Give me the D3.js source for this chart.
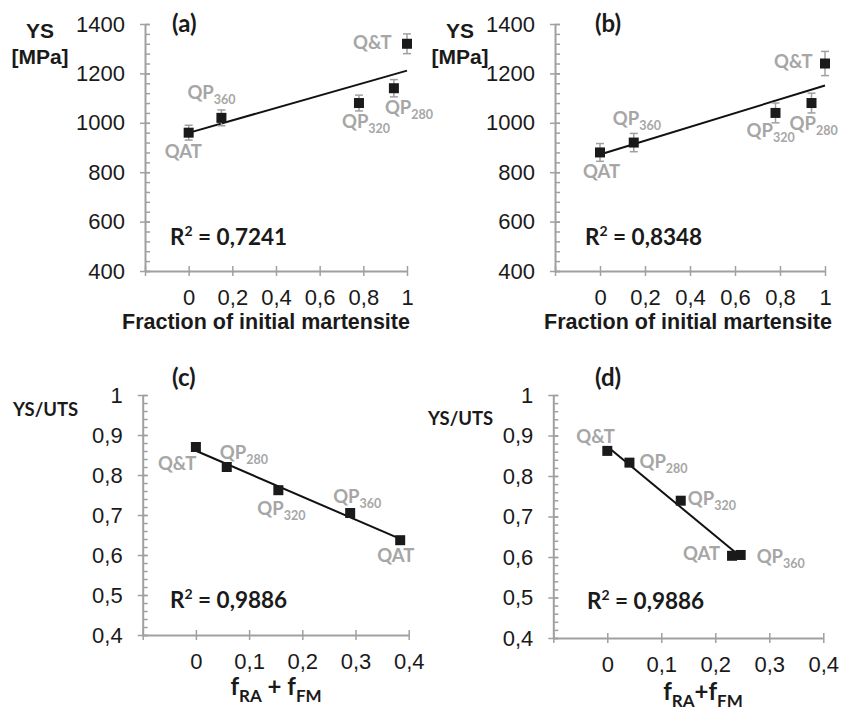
<!DOCTYPE html>
<html>
<head>
<meta charset="utf-8">
<script src="https://cdn.jsdelivr.net/npm/d3@7"></script>
<style>
  body { margin: 0; background: #fff; }
  svg { display: block; }
</style>
</head>
<body>
<div id="chart"></div>
<script>
// ---- datos ----
const labelsAB = ["QAT", "QP360", "QP320", "QP280", "Q&T"];
const fracA = [0, 0.15, 0.78, 0.94, 1];
const ysA = [960, 1020, 1080, 1140, 1320];
const errA = [30, 32, 32, 35, 40];

const fracB = [0, 0.15, 0.78, 0.94, 1];
const ysB = [880, 920, 1040, 1080, 1240];
const errB = [36, 37, 40, 40, 49];

const labelsC = ["Q&T", "QP280", "QP320", "QP360", "QAT"];
const fC = [0, 0.058, 0.155, 0.29, 0.384];
const ratioC = [0.87, 0.82, 0.762, 0.705, 0.637];

const labelsD = ["Q&T", "QP280", "QP320", "QAT", "QP360"];
const fD = [0, 0.041, 0.136, 0.231, 0.247];
const ratioD = [0.862, 0.833, 0.739, 0.603, 0.605];

const r2Texts = ["0,7241", "0,8348", "0,9886", "0,9886"];

const ysTicks = [400, 600, 800, 1000, 1200, 1400];
const fracTicks = [-0.2, 0, 0.2, 0.4, 0.6, 0.8, 1];
const ratioTicks = [0.4, 0.5, 0.6, 0.7, 0.8, 0.9, 1];
const fTicks = [-0.1, 0, 0.1, 0.2, 0.3, 0.4];

// desplazamiento de las etiquetas (px) respecto al punto
const offA = [[-24, 25], [-34, -19], [-17, 25], [-9, 26], [-54, 5]];
const offB = [[-17, 26], [-21, -18], [-29, 24], [-22, 27], [-51, 4]];
const offC = [[-38, 23], [-7, -8], [-21, 25], [-17, -10], [-23, 22]];
const offD = [[-31, -8], [10, 5], [7, 4], [-49, 4], [16, 8]];

const W = 841, H = 712;
const axisColor = "#a0a0a0", labelGray = "#a6a6a6", ink = "#1a1a1a";
const calibri = "Lato, 'Open Sans', sans-serif";
const arial = "'Liberation Sans', Arial, sans-serif";

const loc = d3.formatLocale({ decimal: ",", thousands: "", grouping: [3], currency: ["", ""] });
const fmt = loc.format("~g");

const svg = d3.select("#chart").append("svg")
  .attr("width", W).attr("height", H)
  .attr("viewBox", `0 0 ${W} ${H}`);

const panels = [
  { tag: "(a)", x: fracA, y: ysA, err: errA, names: labelsAB, off: offA, r2: r2Texts[0],
    xDom: [-0.2, 1], xR: [145, 407], yDom: [400, 1400], yR: [271, 24],
    xTicks: fracTicks, yTicks: ysTicks, minor: 40, top: "ys",
    ylab: [40, 38], tagPos: [172, 32], r2Pos: [170, 245], xlabPos: [266, 329], xlab: "frac" },
  { tag: "(b)", x: fracB, y: ysB, err: errB, names: labelsAB, off: offB, r2: r2Texts[1],
    xDom: [-0.2, 1], xR: [555, 825], yDom: [400, 1400], yR: [271, 24],
    xTicks: fracTicks, yTicks: ysTicks, minor: 40, top: "ys",
    ylab: [460, 38], tagPos: [595, 32], r2Pos: [585, 245], xlabPos: [688, 329], xlab: "frac" },
  { tag: "(c)", x: fC, y: ratioC, err: null, names: labelsC, off: offC, r2: r2Texts[2],
    xDom: [-0.1, 0.4], xR: [142.7, 408.7], yDom: [0.4, 1], yR: [635, 395],
    xTicks: fTicks, yTicks: ratioTicks, minor: 0.02, top: "ratio",
    ylab: [13, 416], tagPos: [172, 386], r2Pos: [170, 608], xlabPos: [276, 695], xlab: "f" },
  { tag: "(d)", x: fD, y: ratioD, err: null, names: labelsD, off: offD, r2: r2Texts[3],
    xDom: [-0.1, 0.4], xR: [553.3, 823.3], yDom: [0.4, 1], yR: [638, 395],
    xTicks: fTicks, yTicks: ratioTicks, minor: 0.02, top: "ratio",
    ylab: [428, 425], tagPos: [595, 386], r2Pos: [587, 609], xlabPos: [703, 700], xlab: "f2" }
];

panels.forEach(p => {
  const x = d3.scaleLinear().domain(p.xDom).range(p.xR);
  const y = d3.scaleLinear().domain(p.yDom).range(p.yR);
  const g = svg.append("g");
  const x0 = p.xR[0], y0 = p.yR[0];

  // eje Y: menores
  const minors = d3.range(p.yDom[0], p.yDom[1] + p.minor / 2, p.minor);
  g.append("g")
    .attr("transform", `translate(${x0},0)`)
    .call(d3.axisRight(y).tickValues(minors).tickSize(5).tickFormat(""))
    .call(a => a.select(".domain").remove())
    .call(a => a.selectAll("line").attr("stroke", axisColor).attr("stroke-width", 1.5));

  // eje Y: mayores
  g.append("g")
    .attr("transform", `translate(${x0},0)`)
    .call(d3.axisLeft(y).tickValues(p.yTicks).tickSize(5).tickSizeOuter(0).tickPadding(15).tickFormat(fmt))
    .call(a => a.select(".domain").attr("stroke", axisColor).attr("stroke-width", 2))
    .call(a => a.selectAll("line").attr("x1", 5).attr("stroke", axisColor).attr("stroke-width", 1.5))
    .call(a => a.selectAll("text").attr("fill", ink).style("font-family", arial).style("font-size", "22px"));

  // eje X
  g.append("g")
    .attr("transform", `translate(0,${y0})`)
    .call(d3.axisBottom(x).tickValues(p.xTicks).tickSize(5).tickSizeOuter(0).tickPadding(13)
      .tickFormat(d => d < 0 ? "" : fmt(d)))
    .call(a => a.select(".domain").attr("stroke", axisColor).attr("stroke-width", 2))
    .call(a => a.selectAll("line").attr("y1", -5).attr("stroke", axisColor).attr("stroke-width", 1.5))
    .call(a => a.selectAll("text").attr("fill", ink).style("font-family", arial).style("font-size", "22px"));

  const pts = p.x.map((v, i) => ({ x: v, y: p.y[i], e: p.err ? p.err[i] : 0, name: p.names[i], off: p.off[i] }));

  // recta de regresion
  const mx = d3.mean(p.x), my = d3.mean(p.y);
  const slope = d3.sum(pts, d => (d.x - mx) * (d.y - my)) / d3.sum(pts, d => (d.x - mx) ** 2);
  const icpt = my - slope * mx;
  const xe = d3.extent(p.x);
  g.append("line")
    .attr("x1", x(xe[0])).attr("y1", y(icpt + slope * xe[0]))
    .attr("x2", x(xe[1])).attr("y2", y(icpt + slope * xe[1]))
    .attr("stroke", "#111").attr("stroke-width", 2);

  // barras de error
  if (p.err) {
    const eb = g.selectAll(".eb").data(pts).enter().append("g").attr("stroke", axisColor).attr("stroke-width", 1.5);
    eb.append("line").attr("x1", d => x(d.x)).attr("x2", d => x(d.x))
      .attr("y1", d => y(d.y - d.e)).attr("y2", d => y(d.y + d.e));
    eb.append("line").attr("x1", d => x(d.x) - 4).attr("x2", d => x(d.x) + 4)
      .attr("y1", d => y(d.y - d.e)).attr("y2", d => y(d.y - d.e));
    eb.append("line").attr("x1", d => x(d.x) - 4).attr("x2", d => x(d.x) + 4)
      .attr("y1", d => y(d.y + d.e)).attr("y2", d => y(d.y + d.e));
  }

  // marcadores
  g.selectAll(".pt").data(pts).enter().append("rect")
    .attr("x", d => x(d.x) - 5).attr("y", d => y(d.y) - 5)
    .attr("width", 10).attr("height", 10).attr("fill", "#1a1a1a");

  // etiquetas de los puntos
  const lab = g.selectAll(".lab").data(pts).enter().append("text")
    .attr("x", d => x(d.x) + d.off[0]).attr("y", d => y(d.y) + d.off[1])
    .attr("fill", labelGray).style("font-family", calibri).style("font-weight", "bold").style("font-size", "18.5px");
  lab.each(function (d) {
    const m = d.name.match(/^(QP)(\d+)$/);
    const t = d3.select(this);
    if (m) {
      t.append("tspan").text(m[1]);
      t.append("tspan").attr("dy", 5).style("font-size", "12.5px").text(m[2]);
    } else t.text(d.name);
  });

  // letra del panel
  g.append("text").attr("x", p.tagPos[0]).attr("y", p.tagPos[1])
    .style("font-family", calibri).style("font-weight", "bold").style("font-size", "24px")
    .attr("fill", ink).text(p.tag);

  // R2
  const r = g.append("text").attr("x", p.r2Pos[0]).attr("y", p.r2Pos[1])
    .style("font-family", calibri).style("font-weight", "bold").style("font-size", "22.5px").attr("fill", ink);
  r.append("tspan").text("R");
  r.append("tspan").attr("dy", -9).style("font-size", "14px").text("2");
  r.append("tspan").attr("dy", 9).text(" = " + p.r2);

  // titulo eje Y
  if (p.top === "ys") {
    g.append("text").attr("x", p.ylab[0]).attr("y", p.ylab[1]).attr("text-anchor", "middle")
      .style("font-family", arial).style("font-weight", "bold").style("font-size", "21px").attr("fill", ink).text("YS");
    g.append("text").attr("x", p.ylab[0]).attr("y", p.ylab[1] + 26).attr("text-anchor", "middle")
      .style("font-family", arial).style("font-weight", "bold").style("font-size", "21px").attr("fill", ink).text("[MPa]");
  } else {
    g.append("text").attr("x", p.ylab[0]).attr("y", p.ylab[1])
      .style("font-family", calibri).style("font-weight", "bold").style("font-size", "18.5px").attr("fill", ink).text("YS/UTS");
  }

  // titulo eje X
  if (p.xlab === "frac") {
    g.append("text").attr("x", p.xlabPos[0]).attr("y", p.xlabPos[1]).attr("text-anchor", "middle")
      .style("font-family", arial).style("font-weight", "bold").style("font-size", "21.5px").attr("fill", ink)
      .text("Fraction of initial martensite");
  } else {
    const sp = p.xlab === "f" ? " + " : "+";
    const t = g.append("text").attr("x", p.xlabPos[0]).attr("y", p.xlabPos[1]).attr("text-anchor", "middle")
      .style("font-family", calibri).style("font-weight", "bold").style("font-size", "24px").attr("fill", ink);
    t.append("tspan").text("f");
    t.append("tspan").attr("dy", 7).style("font-size", "17px").text("RA");
    t.append("tspan").attr("dy", -7).text(sp + "f");
    t.append("tspan").attr("dy", 7).style("font-size", "17px").text("FM");
  }
});
</script>
</body>
</html>
